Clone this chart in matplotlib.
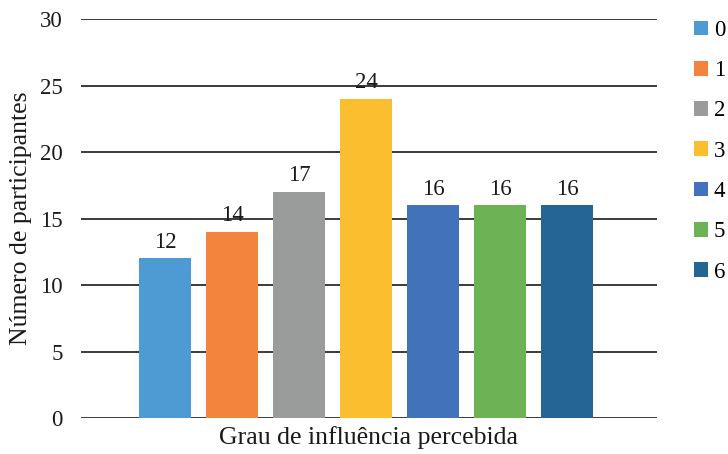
import numpy as np
import matplotlib.pyplot as plt
from matplotlib.patches import Patch

# dados
categorias = ['0', '1', '2', '3', '4', '5', '6']
participantes = [12, 14, 17, 24, 16, 16, 16]
cores = ['#4e9ad3', '#f3843e', '#9a9c9c', '#fbbe2f', '#4273ba', '#6db356', '#246595']

plt.rcParams['font.family'] = ['Liberation Serif', 'DejaVu Serif']

fig = plt.figure(figsize=(7.28, 4.54), dpi=100)
ax = fig.add_axes([81 / 728, 36 / 454, 576 / 728, 399 / 454])

x = np.arange(len(categorias))
bars = ax.bar(x, participantes, width=0.776, color=cores, zorder=2)

for b, v in zip(bars, participantes):
    ax.annotate(str(v), (b.get_x() + b.get_width() / 2, v),
                xytext=(0, 4), textcoords='offset points',
                ha='center', va='bottom', fontsize=16.5, color='#1a1a1a')

ax.set_xlim(-1.254, 7.343)
ax.set_ylim(0, 30)
ax.set_yticks(range(0, 31, 5))
ax.set_xticks([])
ax.grid(axis='y', color='#1a1a1a', linewidth=1.2, zorder=0)
ax.tick_params(axis='y', length=0, pad=13, labelsize=16.5, labelcolor='#1a1a1a')
for s in ax.spines.values():
    s.set_visible(False)

ax.set_xlabel('Grau de influência percebida', fontsize=18.5, color='#1a1a1a', labelpad=6)
ax.set_ylabel('Número de participantes', fontsize=18.5, color='#1a1a1a', labelpad=6)

handles = [Patch(facecolor=c, edgecolor='none') for c in cores]
fig.legend(handles, categorias, loc='upper left', bbox_to_anchor=(694 / 728, 1 - 20 / 454),
           frameon=False, fontsize=16.5, handlelength=0.62, handleheight=0.62,
           handletextpad=0.25, labelspacing=0.84, borderaxespad=0, borderpad=0)

fig.savefig('out.png', dpi=100)
